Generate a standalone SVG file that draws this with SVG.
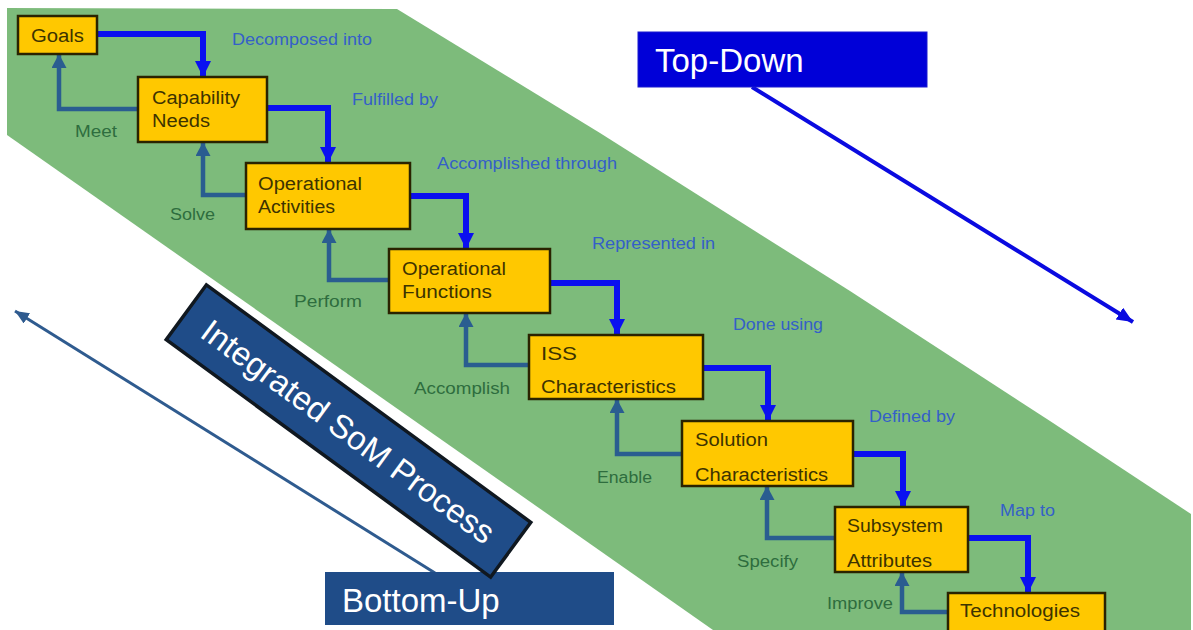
<svg xmlns="http://www.w3.org/2000/svg" width="1193" height="630" viewBox="0 0 1193 630">
  <defs>
    <style>
      .box { fill: #ffc800; stroke: #2a2300; stroke-width: 2.5; }
      .btxt { font-family: "Liberation Sans", Arial, sans-serif; font-size: 18px; fill: #3d3300; }
      .down { fill: none; stroke: #0a10f0; stroke-width: 6; marker-end: url(#headDown); }
      .up { fill: none; stroke: #2a5d90; stroke-width: 4.5; marker-end: url(#headUp); }
      .lblB { font-family: "Liberation Sans", Arial, sans-serif; font-size: 16px; fill: #3460c8; }
      .lblG { font-family: "Liberation Sans", Arial, sans-serif; font-size: 16px; fill: #2e6d3e; }
      .big { font-family: "Liberation Sans", Arial, sans-serif; font-size: 33px; fill: #ffffff; }
    </style>
    <marker id="headDown" markerUnits="userSpaceOnUse" markerWidth="20" markerHeight="18" refX="16" refY="8" orient="auto">
      <path d="M0,0 L16,8 L0,16 Z" fill="#0a10f0"/>
    </marker>
    <marker id="headUp" markerUnits="userSpaceOnUse" markerWidth="20" markerHeight="18" refX="14" refY="7.5" orient="auto">
      <path d="M0,0 L14,7.5 L0,15 Z" fill="#2a5d90"/>
    </marker>
    <marker id="headTD" markerUnits="userSpaceOnUse" markerWidth="20" markerHeight="18" refX="16" refY="7" orient="auto">
      <path d="M0,0 L16,7 L0,14 Z" fill="#0a0ae0"/>
    </marker>
    <marker id="headBU" markerUnits="userSpaceOnUse" markerWidth="20" markerHeight="18" refX="14" refY="6" orient="auto">
      <path d="M0,0 L14,6 L0,12 Z" fill="#2f5b8f"/>
    </marker>
  </defs>

  <rect width="1193" height="630" fill="#ffffff"/>

  <!-- diagonal process band -->
  <polygon id="band" fill="#7dbb7b"
    points="7,8 397,9 600,133 850,291 1050,421 1191,514 1191,630 713,630 7,135"/>

  <!-- connectors -->
  <g id="connectors">
    <path class="down" d="M97,34 H203 V77"/>
    <path class="down" d="M267,108 H328 V163"/>
    <path class="down" d="M410,196 H466 V249"/>
    <path class="down" d="M550,283 H617 V335"/>
    <path class="down" d="M703,368 H768 V421"/>
    <path class="down" d="M853,454 H903 V507"/>
    <path class="down" d="M968,538 H1028 V593"/>

    <path class="up" d="M138,109 H59 V54"/>
    <path class="up" d="M246,195 H203 V142"/>
    <path class="up" d="M389,280 H329 V229"/>
    <path class="up" d="M529,365 H466 V313"/>
    <path class="up" d="M682,454 H617 V399"/>
    <path class="up" d="M835,538 H767 V486"/>
    <path class="up" d="M948,612 H902 V572"/>

    <line x1="752" y1="87" x2="1133" y2="322" stroke="#0a0ae0" stroke-width="4" marker-end="url(#headTD)"/>
    <line x1="435" y1="573" x2="15" y2="311" stroke="#2f5b8f" stroke-width="3" marker-end="url(#headBU)"/>
  </g>

  <!-- connector labels -->
  <g id="labels">
    <text class="lblB" x="232" y="45" textLength="140" lengthAdjust="spacingAndGlyphs">Decomposed into</text>
    <text class="lblB" x="352" y="105" textLength="86" lengthAdjust="spacingAndGlyphs">Fulfilled by</text>
    <text class="lblB" x="437" y="169" textLength="180" lengthAdjust="spacingAndGlyphs">Accomplished through</text>
    <text class="lblB" x="592" y="249" textLength="123" lengthAdjust="spacingAndGlyphs">Represented in</text>
    <text class="lblB" x="733" y="330" textLength="90" lengthAdjust="spacingAndGlyphs">Done using</text>
    <text class="lblB" x="869" y="422" textLength="86" lengthAdjust="spacingAndGlyphs">Defined by</text>
    <text class="lblB" x="1000" y="516" textLength="55" lengthAdjust="spacingAndGlyphs">Map to</text>

    <text class="lblG" x="75" y="137" textLength="42" lengthAdjust="spacingAndGlyphs">Meet</text>
    <text class="lblG" x="170" y="220" textLength="45" lengthAdjust="spacingAndGlyphs">Solve</text>
    <text class="lblG" x="294" y="307" textLength="68" lengthAdjust="spacingAndGlyphs">Perform</text>
    <text class="lblG" x="414" y="394" textLength="96" lengthAdjust="spacingAndGlyphs">Accomplish</text>
    <text class="lblG" x="597" y="483" textLength="55" lengthAdjust="spacingAndGlyphs">Enable</text>
    <text class="lblG" x="737" y="567" textLength="61" lengthAdjust="spacingAndGlyphs">Specify</text>
    <text class="lblG" x="827" y="609" textLength="66" lengthAdjust="spacingAndGlyphs">Improve</text>
  </g>

  <!-- process nodes -->
  <g id="goals">
    <rect class="box" x="18" y="16" width="79" height="38"/>
    <text class="btxt" x="31" y="42" textLength="53" lengthAdjust="spacingAndGlyphs">Goals</text>
  </g>
  <g id="capability-needs">
    <rect class="box" x="138" y="77" width="129" height="65"/>
    <text class="btxt" x="152" y="104" textLength="88" lengthAdjust="spacingAndGlyphs">Capability</text>
    <text class="btxt" x="152" y="127" textLength="58" lengthAdjust="spacingAndGlyphs">Needs</text>
  </g>
  <g id="operational-activities">
    <rect class="box" x="246" y="163" width="164" height="66"/>
    <text class="btxt" x="258" y="190" textLength="104" lengthAdjust="spacingAndGlyphs">Operational</text>
    <text class="btxt" x="258" y="213" textLength="77" lengthAdjust="spacingAndGlyphs">Activities</text>
  </g>
  <g id="operational-functions">
    <rect class="box" x="389" y="249" width="161" height="64"/>
    <text class="btxt" x="402" y="275" textLength="104" lengthAdjust="spacingAndGlyphs">Operational</text>
    <text class="btxt" x="402" y="298" textLength="90" lengthAdjust="spacingAndGlyphs">Functions</text>
  </g>
  <g id="iss-characteristics">
    <rect class="box" x="529" y="335" width="174" height="64"/>
    <text class="btxt" x="541" y="360" textLength="36" lengthAdjust="spacingAndGlyphs">ISS</text>
    <text class="btxt" x="541" y="393" textLength="135" lengthAdjust="spacingAndGlyphs">Characteristics</text>
  </g>
  <g id="solution-characteristics">
    <rect class="box" x="682" y="421" width="171" height="65"/>
    <text class="btxt" x="695" y="446" textLength="73" lengthAdjust="spacingAndGlyphs">Solution</text>
    <text class="btxt" x="695" y="481" textLength="133" lengthAdjust="spacingAndGlyphs">Characteristics</text>
  </g>
  <g id="subsystem-attributes">
    <rect class="box" x="835" y="507" width="133" height="65"/>
    <text class="btxt" x="847" y="532" textLength="96" lengthAdjust="spacingAndGlyphs">Subsystem</text>
    <text class="btxt" x="847" y="567" textLength="85" lengthAdjust="spacingAndGlyphs">Attributes</text>
  </g>
  <g id="technologies">
    <rect class="box" x="948" y="593" width="157" height="45"/>
    <text class="btxt" x="960" y="617" textLength="120" lengthAdjust="spacingAndGlyphs">Technologies</text>
  </g>

  <!-- direction captions -->
  <g id="top-down">
    <rect x="638" y="32" width="289" height="55" fill="#0000d8" stroke="#1a1ad0" stroke-width="1"/>
    <text class="big" x="655" y="72">Top-Down</text>
  </g>
  <g id="bottom-up">
    <rect x="325" y="572" width="289" height="53" fill="#1f4c88"/>
    <text class="big" x="342" y="612">Bottom-Up</text>
  </g>
  <g id="integrated-som-process" transform="translate(348.5,431) rotate(36.2)">
    <rect x="-201" y="-34" width="402" height="68" fill="#1f4c88" stroke="#101820" stroke-width="3.5"/>
    <text class="big" x="0" y="12" text-anchor="middle">Integrated SoM Process</text>
  </g>
</svg>
